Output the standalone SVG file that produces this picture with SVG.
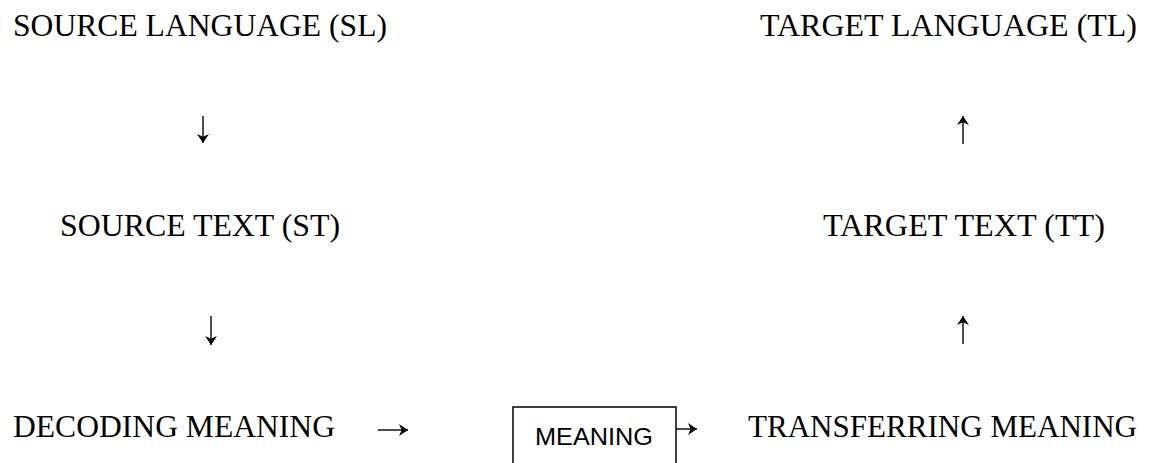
<svg xmlns="http://www.w3.org/2000/svg" width="1151" height="463" viewBox="0 0 1151 463">
<style>
.t{font-family:"Liberation Serif","Times New Roman",serif;font-size:32px;fill:#000}
.s{font-family:"Liberation Sans",Arial,sans-serif;font-size:24px;fill:#000}
.c{stroke:#000;stroke-width:1.4;fill:none}
</style>
<defs>
<marker id="ah" viewBox="0 0 10 10" refX="10" refY="5" markerWidth="9" markerHeight="12" markerUnits="userSpaceOnUse" orient="auto" preserveAspectRatio="none">
<path d="M0,0 L10,5 L0,10 L3,5 z" fill="#000"/>
</marker>
</defs>
<rect width="1151" height="463" fill="#fff"/>
<g id="sl"><text class="t" x="13" y="36" textLength="374" lengthAdjust="spacingAndGlyphs">SOURCE LANGUAGE (SL)</text></g>
<g id="tl"><text class="t" x="760" y="36" textLength="377" lengthAdjust="spacingAndGlyphs">TARGET LANGUAGE (TL)</text></g>
<g id="st"><text class="t" x="60" y="236" textLength="280" lengthAdjust="spacingAndGlyphs">SOURCE TEXT (ST)</text></g>
<g id="tt"><text class="t" x="823" y="236" textLength="282" lengthAdjust="spacingAndGlyphs">TARGET TEXT (TT)</text></g>
<g id="decoding"><text class="t" x="13" y="437" textLength="322" lengthAdjust="spacingAndGlyphs">DECODING MEANING</text></g>
<g id="transferring"><text class="t" x="748" y="437" textLength="389" lengthAdjust="spacingAndGlyphs">TRANSFERRING MEANING</text></g>
<g id="meaning">
<rect x="513" y="407" width="163" height="70" fill="none" stroke="#000" stroke-width="1.5"/>
<text class="s" x="535" y="445" textLength="118" lengthAdjust="spacingAndGlyphs">MEANING</text>
</g>
<g id="connectors">
<line class="c" x1="203" y1="116" x2="203" y2="143" marker-end="url(#ah)"/>
<line class="c" x1="211" y1="316" x2="211" y2="345" marker-end="url(#ah)"/>
<line class="c" x1="963" y1="144" x2="963" y2="116" marker-end="url(#ah)"/>
<line class="c" x1="963" y1="344" x2="963" y2="316" marker-end="url(#ah)"/>
<line class="c" x1="378" y1="430" x2="408" y2="430" marker-end="url(#ah)"/>
<line class="c" x1="676" y1="429" x2="697" y2="429" marker-end="url(#ah)"/>
</g>
</svg>
